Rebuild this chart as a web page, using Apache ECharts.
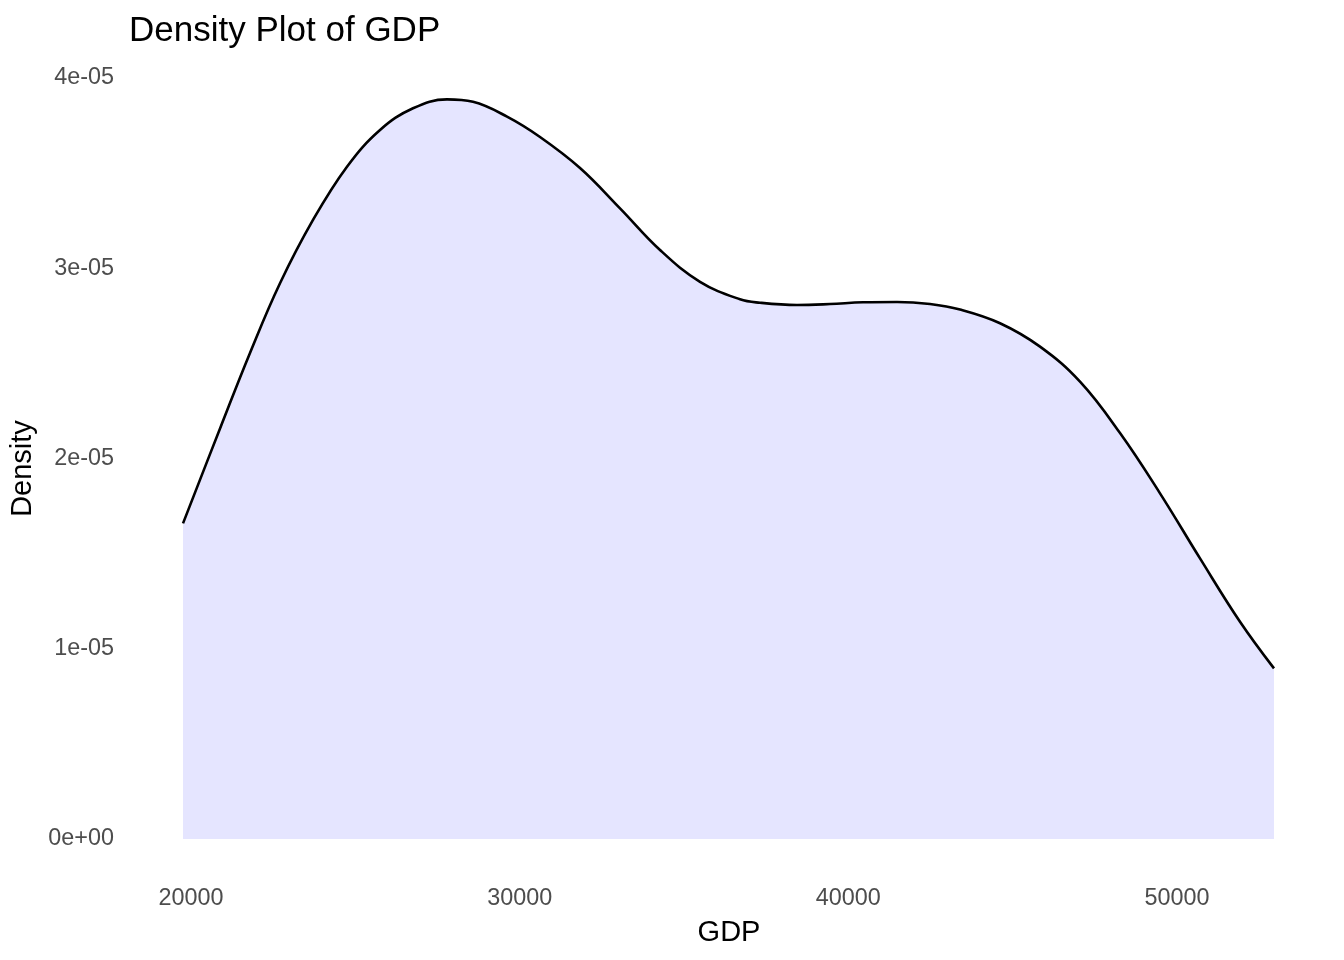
<!DOCTYPE html>
<html>
<head>
<meta charset="utf-8">
<script src="https://cdn.jsdelivr.net/npm/echarts@6/dist/echarts.min.js"></script>
<style>
html,body{margin:0;padding:0;background:#fff;}
#chart{width:1344px;height:960px;}
</style>
</head>
<body>
<div id="chart"></div>
<script>
const gdp = [19757, 20913, 21795, 22708, 23712, 24746, 25751, 26755, 27789, 28580, 29615, 30619, 31836, 33053, 34270, 35487, 36704, 37312, 38438, 39442, 40446, 41481, 42485, 43398, 44615, 45832, 47049, 48266, 49483, 50700, 51917, 52951];
const density = [1.659e-5, 2.171e-5, 2.555e-5, 2.921e-5, 3.254e-5, 3.534e-5, 3.727e-5, 3.841e-5, 3.888e-5, 3.875e-5, 3.797e-5, 3.690e-5, 3.527e-5, 3.315e-5, 3.096e-5, 2.929e-5, 2.837e-5, 2.819e-5, 2.807e-5, 2.812e-5, 2.821e-5, 2.823e-5, 2.812e-5, 2.783e-5, 2.711e-5, 2.588e-5, 2.404e-5, 2.134e-5, 1.817e-5, 1.475e-5, 1.142e-5, 0.897e-5];
const xTicks = [20000, 30000, 40000, 50000];
const yTicks = [0, 1e-5, 2e-5, 3e-5, 4e-5];
const yTickLabels = ['0e+00', '1e-05', '2e-05', '3e-05', '4e-05'];

const chart = echarts.init(document.getElementById('chart'));
const font = 'Liberation Sans, Arial, Helvetica, sans-serif';
chart.setOption({
  animation: false,
  backgroundColor: '#ffffff',
  title: {
    text: 'Density Plot of GDP',
    left: 124, top: 9,
    textStyle: {fontFamily: font, fontSize: 35, fontWeight: 'normal', color: '#000'}
  },
  grid: {left: 128, right: 14, top: 61, bottom: 84, containLabel: false},
  xAxis: {
    type: 'value',
    min: 18083, max: 54655,
    name: 'GDP', nameLocation: 'middle', nameGap: 42,
    nameTextStyle: {fontFamily: font, fontSize: 29, color: '#000'},
    axisLine: {show: false}, axisTick: {show: false}, splitLine: {show: false},
    axisLabel: {
      customValues: xTicks, margin: 11,
      fontFamily: font, fontSize: 23.4, color: '#4D4D4D',
      formatter: v => String(v)
    }
  },
  yAxis: {
    type: 'value',
    min: -0.1945e-5, max: 4.0895e-5,
    name: 'Density', nameLocation: 'middle', nameGap: 87,
    nameTextStyle: {fontFamily: font, fontSize: 29, color: '#000'},
    axisLine: {show: false}, axisTick: {show: false}, splitLine: {show: false},
    axisLabel: {
      customValues: yTicks, margin: 14,
      fontFamily: font, fontSize: 23.4, color: '#4D4D4D',
      formatter: v => {
        const i = yTicks.findIndex(t => Math.abs(t - v) < 1e-9);
        return i >= 0 ? yTickLabels[i] : '';
      }
    }
  },
  series: [{
    type: 'line',
    data: gdp.map((g, i) => [g, density[i]]),
    smooth: 0.4,
    showSymbol: false,
    lineStyle: {color: '#000', width: 2.6},
    areaStyle: {color: '#E5E5FF', opacity: 1, origin: 'auto'}
  }]
});
</script>
</body>
</html>
